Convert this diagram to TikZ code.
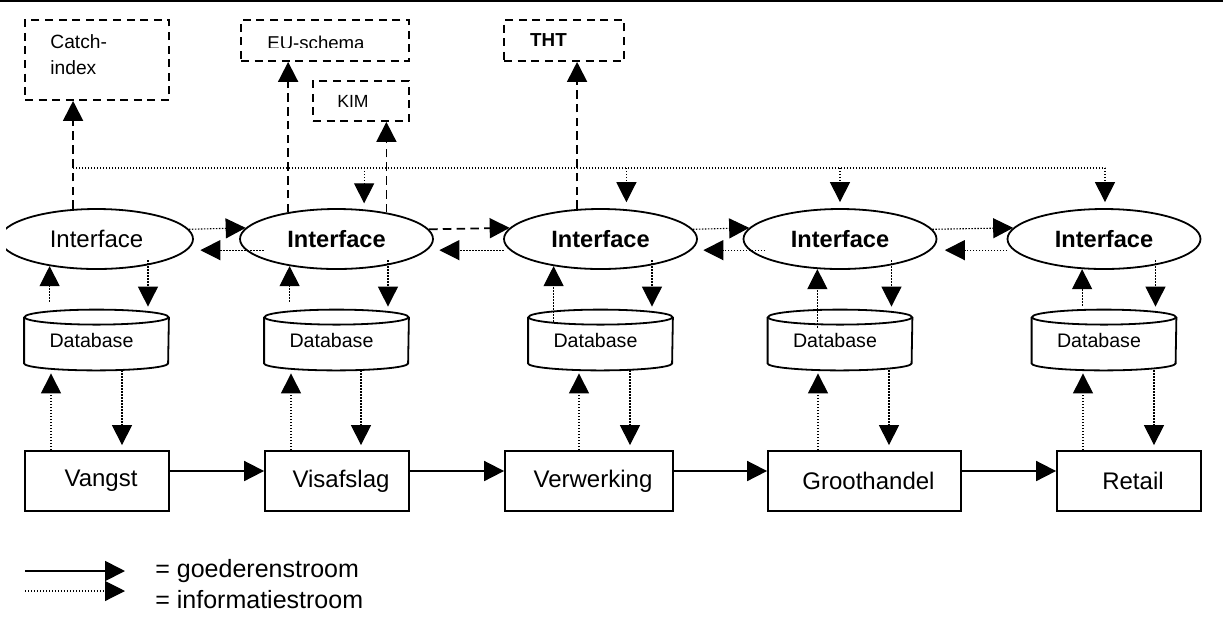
\documentclass[tikz,border=0pt]{standalone}
\usepackage{fontspec}
\setmainfont{Liberation Sans}
\usetikzlibrary{arrows.meta,shapes.geometric,calc}
\begin{document}
\begin{tikzpicture}[x=0.5pt,y=0.5pt]
\tikzset{
  tipx/.style={-{Triangle[length=10pt,width=10pt]}},
  goods/.style={line width=0.9pt,tipx},
  infoline/.style={line width=0.55pt,dash pattern=on 0.7pt off 0.8pt},
  info/.style={infoline,tipx},
  extflow/.style={line width=0.9pt,dash pattern=on 4.3pt off 2.6pt,tipx},
  extbox/.style={draw,line width=0.9pt,dash pattern=on 4pt off 2.8pt,inner sep=0pt},
  iface/.style={draw,ellipse,line width=0.9pt,minimum width=96.5pt,minimum height=30pt,
    inner sep=0pt,font=\fontsize{11.8}{14}\selectfont\bfseries},
  proc/.style={draw,line width=0.9pt,minimum height=30pt,inner sep=0pt,
    font=\fontsize{12}{14}\selectfont},
  dbase/.style={minimum width=72pt,minimum height=30pt,inner sep=0pt,
    font=\fontsize{9.8}{12}\selectfont},
  cyl/.style={line width=0.9pt},
}
\useasboundingbox (0,0) rectangle (1223,-629);

% header rule
\draw[line width=1pt] (0,-1) -- (1223,-1);

% external information systems
\node[extbox,minimum width=72pt,minimum height=40pt] (catch) at (97,-60) {};
\node[anchor=north west,align=left,inner sep=0pt,font=\fontsize{9.6}{13}\selectfont] (catchtext) at (50,-34) {Catch-\\index};
\node[extbox,minimum width=84pt,minimum height=20.5pt] (eu) at (325,-40.5) {};
\begin{scope}
  \clip (242,-21) rectangle (408,-47);
  \node[anchor=base west,inner sep=0pt,font=\fontsize{9.3}{11}\selectfont] (eutext) at (267,-49) {EU-schema};
\end{scope}
\node[extbox,minimum width=48pt,minimum height=20pt,font=\fontsize{8.8}{10}\selectfont] (kim) at (361,-101) {KIM\kern8pt};
\node[extbox,minimum width=60pt,minimum height=20.5pt,font=\fontsize{9.4}{11}\selectfont\bfseries] (tht) at (564,-40.5) {THT\kern15.5pt};

% interfaces
\begin{scope}
  \clip (6,0) rectangle (1223,-629);
  \node[iface,font=\fontsize{12}{14}\selectfont] (i1) at (96.5,-239) {Interface};
\end{scope}
\node[iface] (i2) at (336.5,-239) {Interface};
\node[iface] (i3) at (600.5,-239) {Interface};
\node[iface] (i4) at (840,-239) {Interface};
\node[iface] (i5) at (1104,-239) {Interface};

% databases
\node[dbase] (d1) at (96.5,-340) {Database\kern5pt};
\node[dbase] (d2) at (336.5,-340) {Database\kern5pt};
\node[dbase] (d3) at (600.5,-340) {Database\kern5pt};
\node[dbase] (d4) at (840,-340) {Database\kern5pt};
\node[dbase] (d5) at (1104,-340) {Database\kern5pt};
\foreach \d in {d1,d2,d3,d4,d5}{
  \draw[cyl] ($(\d.north)+(0,-7.5)$) ellipse [x radius=36pt,y radius=3.75pt];
  \draw[cyl] ($(\d.north west)+(0,-7.5)$) -- ($(\d.south west)+(0,7)$)
    arc[start angle=180,end angle=360,x radius=36pt,y radius=3.5pt]
    -- ($(\d.north east)+(0,-7.5)$);
}

% chain links
\node[proc,minimum width=72pt] (p1) at (97,-481) {\kern4pt Vangst};
\node[proc,minimum width=72pt] (p2) at (337,-481) {\kern4pt Visafslag};
\node[proc,minimum width=84pt] (p3) at (589,-481) {\kern4pt Verwerking};
\node[proc,minimum width=96.5pt] (p4) at (864.5,-481) {\kern4pt Groothandel};
\node[proc,minimum width=72pt] (p5) at (1129,-481) {\kern4pt Retail};

% flow of goods
\draw[goods] ([yshift=5pt]p1.east) -- ([yshift=5pt]p2.west);
\draw[goods] ([yshift=5pt]p2.east) -- ([yshift=5pt]p3.west);
\draw[goods] ([yshift=5pt]p3.east) -- ([yshift=5pt]p4.west);
\draw[goods] ([yshift=5pt]p4.east) -- ([yshift=5pt]p5.west);

% links to the external systems
\draw[extflow] (i1.128.9) -- (i1.128.9 |- catch.south);
\draw[extflow] (i2.151.2) -- (i2.151.2 |- eu.south);
\draw[extflow] (i2.28.1) -- (i2.28.1 |- kim.south);
\draw[extflow] (i3.128.9) -- (i3.128.9 |- tht.south);

% shared information bus
\coordinate (bus) at (73,-168);
\coordinate (busend) at (1105,-168);
\draw[infoline] (bus) -- (busend);
\draw[info,shorten >=3pt] (i2.47.4 |- bus) -- (i2.47.4);
\draw[info,shorten >=3.5pt] (i3.49.8 |- bus) -- (i3.49.8);
\draw[info,shorten >=3pt] (i4.north |- bus) -- (i4.north);
\draw[info,shorten >=3pt] (busend) -- (busend |- i5.north);

% exchange between interfaces
\draw[info] (i1.6.3) -- (i2.173.7);
\draw[info] ([xshift=9pt]i2.187.7) -- ([xshift=6.5pt]i1.-7.7);
\draw[extflow] (i2.6.3) -- (i3.173.7);
\draw[info] ([xshift=-3pt]i3.187.7) -- ([xshift=6pt]i2.-7.7);
\draw[info] (i3.6.3) -- (i4.173.7);
\draw[info] ([xshift=8pt]i4.187.7) -- ([xshift=6pt]i3.-7.7);
\draw[info] (i4.6.3) -- (i5.173.7);
\draw[info] ([xshift=-3pt]i5.187.7) -- ([xshift=7pt]i4.-7.7);

% vertical information flows per link
\foreach \i/\ea/\s/\bu/\bd in {1/210.2/4/51/122, 2/210.2/4/291/361, 3/210.2/-6/579/630,
                               4/233.0/-9/818/889, 5/234.4/2/1083/1154}{
  \draw[info] ([yshift=\s pt]i\i.\ea |- d\i.north) -- (i\i.\ea);
  \draw[info,shorten >=1.5pt] ([yshift=2.5pt]i\i.-27.5) -- (i\i.-27.5 |- d\i.north);
  \draw[info,shorten >=1.5pt] (p\i.north -| \bu,0) -- (d\i.south -| \bu,0);
  \draw[info,shorten >=2.5pt] (d\i.south -| \bd,0) -- (p\i.north -| \bd,0);
}

% legend
\coordinate (ga) at (25,-571);
\coordinate (gb) at (125,-571);
\coordinate (ia) at (25,-591);
\coordinate (ib) at (125,-591);
\draw[goods] (ga) -- (gb);
\draw[info] (ia) -- (ib);
\node[anchor=base west,inner sep=0pt,font=\fontsize{12.5}{14}\selectfont] (lg1) at (155,-577) {= goederenstroom};
\node[anchor=base west,inner sep=0pt,font=\fontsize{12.5}{14}\selectfont] (lg2) at (155,-608) {= informatiestroom};
\end{tikzpicture}
\end{document}
